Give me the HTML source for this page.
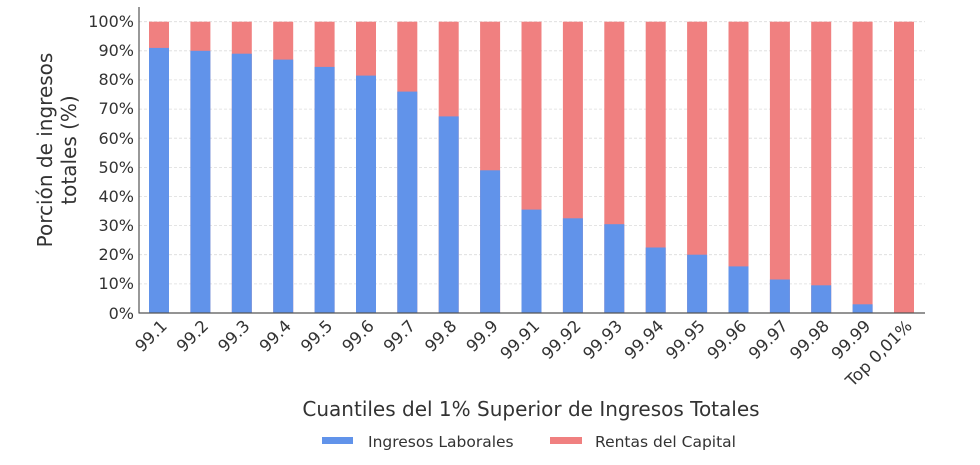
<!DOCTYPE html>
<html><head><meta charset="utf-8"><style>
html,body{margin:0;padding:0;background:#fff;}
svg{display:block;font-family:"DejaVu Sans","Liberation Sans",sans-serif;}
</style></head><body>
<svg width="980" height="465" viewBox="0 0 980 465" xmlns="http://www.w3.org/2000/svg">
<g stroke="#dcdcdc" stroke-width="0.8" stroke-dasharray="3,2">
<line x1="139" x2="925" y1="21.7" y2="21.7"/><line x1="139" x2="925" y1="50.8" y2="50.8"/>
<line x1="139" x2="925" y1="79.9" y2="79.9"/><line x1="139" x2="925" y1="109.1" y2="109.1"/>
<line x1="139" x2="925" y1="138.2" y2="138.2"/><line x1="139" x2="925" y1="167.4" y2="167.4"/>
<line x1="139" x2="925" y1="196.5" y2="196.5"/><line x1="139" x2="925" y1="225.6" y2="225.6"/>
<line x1="139" x2="925" y1="254.7" y2="254.7"/><line x1="139" x2="925" y1="283.9" y2="283.9"/>
</g>
<g fill="#f08080">
<rect x="149" y="21.7" width="20" height="291.3"/><rect x="190.4" y="21.7" width="20" height="291.3"/>
<rect x="231.8" y="21.7" width="20" height="291.3"/><rect x="273.2" y="21.7" width="20" height="291.3"/>
<rect x="314.6" y="21.7" width="20" height="291.3"/><rect x="356" y="21.7" width="20" height="291.3"/>
<rect x="397.3" y="21.7" width="20" height="291.3"/><rect x="438.7" y="21.7" width="20" height="291.3"/>
<rect x="480.1" y="21.7" width="20" height="291.3"/><rect x="521.5" y="21.7" width="20" height="291.3"/>
<rect x="562.9" y="21.7" width="20" height="291.3"/><rect x="604.3" y="21.7" width="20" height="291.3"/>
<rect x="645.7" y="21.7" width="20" height="291.3"/><rect x="687.1" y="21.7" width="20" height="291.3"/>
<rect x="728.5" y="21.7" width="20" height="291.3"/><rect x="769.9" y="21.7" width="20" height="291.3"/>
<rect x="811.2" y="21.7" width="20" height="291.3"/><rect x="852.6" y="21.7" width="20" height="291.3"/>
<rect x="894" y="21.7" width="20" height="291.3"/>
</g>
<g fill="#6193ea">
<rect x="149" y="47.9" width="20" height="265.1"/><rect x="190.4" y="50.8" width="20" height="262.2"/>
<rect x="231.8" y="53.7" width="20" height="259.3"/><rect x="273.2" y="59.6" width="20" height="253.4"/>
<rect x="314.6" y="66.9" width="20" height="246.1"/><rect x="356" y="75.6" width="20" height="237.4"/>
<rect x="397.3" y="91.6" width="20" height="221.4"/><rect x="438.7" y="116.4" width="20" height="196.6"/>
<rect x="480.1" y="170.3" width="20" height="142.7"/><rect x="521.5" y="209.6" width="20" height="103.4"/>
<rect x="562.9" y="218.3" width="20" height="94.7"/><rect x="604.3" y="224.2" width="20" height="88.8"/>
<rect x="645.7" y="247.5" width="20" height="65.5"/><rect x="687.1" y="254.7" width="20" height="58.3"/>
<rect x="728.5" y="266.4" width="20" height="46.6"/><rect x="769.9" y="279.5" width="20" height="33.5"/>
<rect x="811.2" y="285.3" width="20" height="27.7"/><rect x="852.6" y="304.3" width="20" height="8.7"/>
</g>
<g stroke="#555" stroke-width="1.2">
<line x1="139" y1="7" x2="139" y2="313.5"/><line x1="139" y1="313" x2="925" y2="313"/>
</g>
<g font-size="16" fill="#333" text-anchor="end">
<text x="134" y="27">100%</text><text x="134" y="56">90%</text><text x="134" y="85">80%</text>
<text x="134" y="114">70%</text><text x="134" y="144">60%</text><text x="134" y="173">50%</text>
<text x="134" y="202">40%</text><text x="134" y="231">30%</text><text x="134" y="260">20%</text>
<text x="134" y="289">10%</text><text x="134" y="319">0%</text>
</g>
<g font-size="16.5" fill="#333" text-anchor="end">
<text transform="translate(168,327) rotate(-45)">99.1</text>
<text transform="translate(209.4,327) rotate(-45)">99.2</text>
<text transform="translate(250.8,327) rotate(-45)">99.3</text>
<text transform="translate(292.2,327) rotate(-45)">99.4</text>
<text transform="translate(333.6,327) rotate(-45)">99.5</text>
<text transform="translate(375,327) rotate(-45)">99.6</text>
<text transform="translate(416.3,327) rotate(-45)">99.7</text>
<text transform="translate(457.7,327) rotate(-45)">99.8</text>
<text transform="translate(499.1,327) rotate(-45)">99.9</text>
<text transform="translate(540.5,327) rotate(-45)">99.91</text>
<text transform="translate(581.9,327) rotate(-45)">99.92</text>
<text transform="translate(623.3,327) rotate(-45)">99.93</text>
<text transform="translate(664.7,327) rotate(-45)">99.94</text>
<text transform="translate(706.1,327) rotate(-45)">99.95</text>
<text transform="translate(747.5,327) rotate(-45)">99.96</text>
<text transform="translate(788.9,327) rotate(-45)">99.97</text>
<text transform="translate(830.2,327) rotate(-45)">99.98</text>
<text transform="translate(871.6,327) rotate(-45)">99.99</text>
<text transform="translate(913,327) rotate(-45)">Top 0,01%</text>
</g>
<g font-size="20" fill="#333" text-anchor="middle">
<text transform="translate(52,150) rotate(-90)">Porción de ingresos</text>
<text transform="translate(76,150) rotate(-90)">totales (%)</text>
<text x="531" y="416">Cuantiles del 1% Superior de Ingresos Totales</text>
</g>
<rect x="322" y="437" width="31" height="7" fill="#6193ea"/>
<text x="368" y="447" font-size="15.5" fill="#333">Ingresos Laborales</text>
<rect x="550" y="437" width="32" height="7" fill="#f08080"/>
<text x="595" y="447" font-size="15.5" fill="#333">Rentas del Capital</text>
</svg>
</body></html>
